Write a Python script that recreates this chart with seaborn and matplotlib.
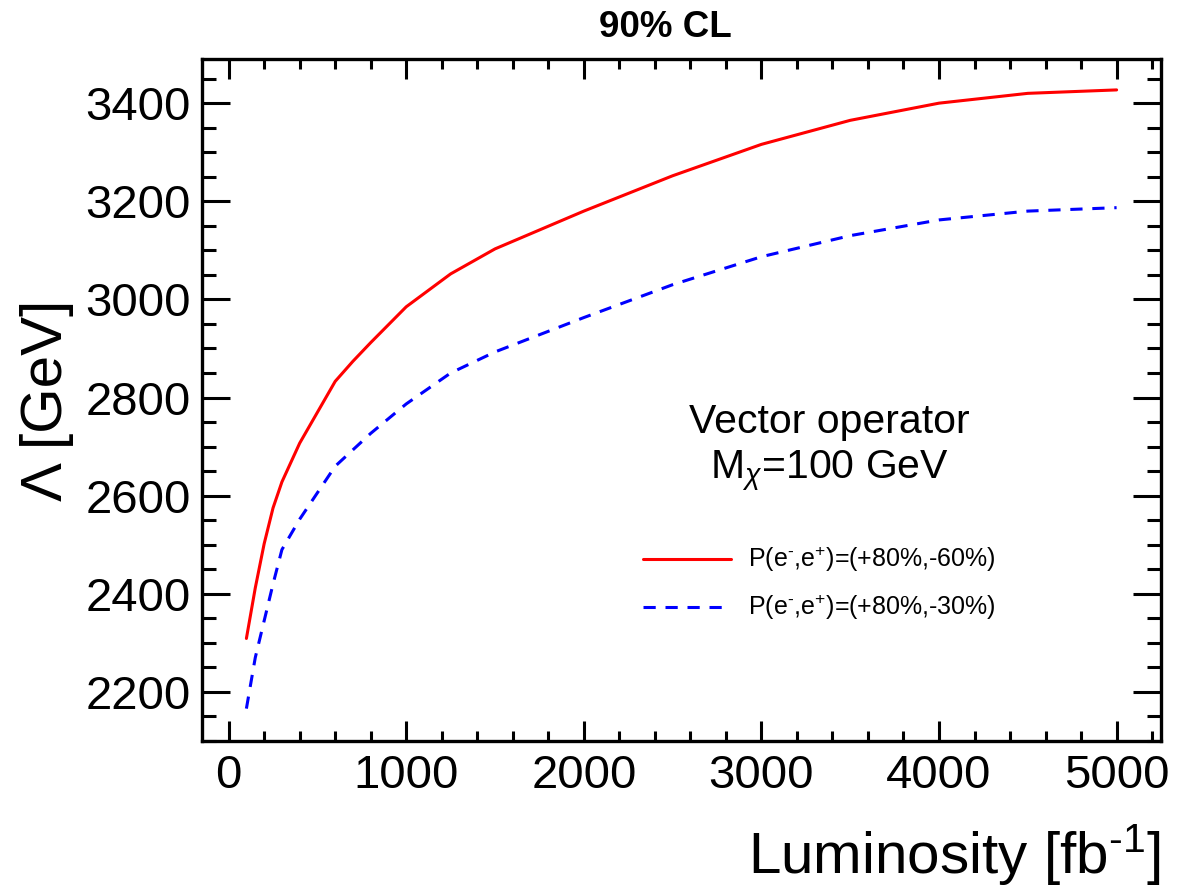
import matplotlib
matplotlib.use("Agg")
import matplotlib.pyplot as plt
import seaborn as sns
import pandas as pd
from matplotlib.ticker import MultipleLocator

# ---- data ----
lumi_red = [100, 150, 200, 250, 300, 400, 600, 700, 800, 1000, 1250, 1500, 2000, 2500, 3000, 3500, 4000, 4500, 5000]
lam_red = [2309, 2412, 2502, 2575, 2628, 2707, 2833, 2874, 2912, 2985, 3052, 3103, 3180, 3252, 3316, 3365, 3400, 3420, 3427]
lumi_blue = [100, 150, 200, 250, 300, 400, 600, 800, 1000, 1250, 1500, 2000, 2500, 3000, 3500, 4000, 4500, 5000]
lam_blue = [2166, 2270, 2345, 2420, 2490, 2552, 2660, 2727, 2787, 2850, 2893, 2963, 3030, 3087, 3130, 3162, 3180, 3187]
label_red = r'P(e$^{\text{-}}$,e$^{+}$)=(+80%,-60%)'
label_blue = r'P(e$^{\text{-}}$,e$^{+}$)=(+80%,-30%)'
title = '90% CL'
xlabel = r'Luminosity [fb$^{\text{-}1}$]'
ylabel = 'Λ [GeV]'
note1 = 'Vector operator'
note2 = r'M$_{\chi}$=100 GeV'

df = pd.DataFrame({
    'lumi': lumi_red + lumi_blue,
    'lam': lam_red + lam_blue,
    'series': [label_red] * len(lumi_red) + [label_blue] * len(lumi_blue),
})

sns.set_style('ticks')
plt.rcParams['font.family'] = ['Liberation Sans', 'DejaVu Sans']
plt.rcParams['mathtext.fontset'] = 'custom'
plt.rcParams['mathtext.rm'] = 'Liberation Sans'
plt.rcParams['mathtext.it'] = 'Liberation Sans:italic'
plt.rcParams['mathtext.bf'] = 'Liberation Sans:bold'
plt.rcParams['text.color'] = 'black'
plt.rcParams['axes.labelcolor'] = 'black'
plt.rcParams['xtick.color'] = 'black'
plt.rcParams['ytick.color'] = 'black'

fig = plt.figure(figsize=(11.77, 8.90), dpi=100)
ax = fig.add_axes([202/1177, 1 - 741/890, (1161-202)/1177, (741-59)/890])

sns.lineplot(data=df, x='lumi', y='lam', hue='series', style='series',
             palette={label_red: '#ff0000', label_blue: '#0000ff'},
             dashes={label_red: '', label_blue: (4, 3.2)},
             linewidth=2.2, legend=False, ax=ax, sort=False)

ax.set_xlim(-150, 5250)
ax.set_ylim(2100, 3490)
ax.xaxis.set_major_locator(MultipleLocator(1000))
ax.xaxis.set_minor_locator(MultipleLocator(200))
ax.yaxis.set_major_locator(MultipleLocator(200))
ax.yaxis.set_minor_locator(MultipleLocator(50))

for s in ax.spines.values():
    s.set_linewidth(2.4)
    s.set_color('black')
    s.set_visible(True)

ax.tick_params(which='both', direction='in', top=True, right=True, width=2.2, colors='black')
ax.tick_params(axis='x', which='major', length=14.4, labelsize=34, pad=9)
ax.tick_params(axis='x', which='minor', length=7.2)
ax.tick_params(axis='y', which='major', length=20, labelsize=34, pad=8)
ax.tick_params(axis='y', which='minor', length=10)

ax.set_xlabel(xlabel, fontsize=42, color='black')
ax.xaxis.label.set_ha('right')
ax.xaxis.label.set_va('baseline')
ax.xaxis.set_label_coords(1.0, (741-873)/682)

ax.set_ylabel(ylabel, fontsize=42, color='black')
ax.yaxis.label.set_va('baseline')
ax.yaxis.set_label_coords((62-202)/959, 0.5)

ax.set_title(title, fontsize=26.5, fontweight='bold', color='black',
             x=(665-202)/959, y=(741-37)/682, pad=0)

ax.text((829-202)/959, (741-433)/682, note1, transform=ax.transAxes,
        ha='center', va='baseline', fontsize=29.5, color='black')
ax.text((829-202)/959, (741-478)/682, note2, transform=ax.transAxes,
        ha='center', va='baseline', fontsize=29.5, color='black')

leg = ax.legend(handles=ax.lines[:2], labels=[label_red, label_blue],
                loc='center left', bbox_to_anchor=((643-202)/959, (741-583.7)/682),
                frameon=False, fontsize=18, handlelength=3.5, handletextpad=0.7,
                borderpad=0, borderaxespad=0, labelspacing=0.75)
for t in leg.get_texts():
    t.set_color('black')

fig.savefig('out.png', dpi=100)
